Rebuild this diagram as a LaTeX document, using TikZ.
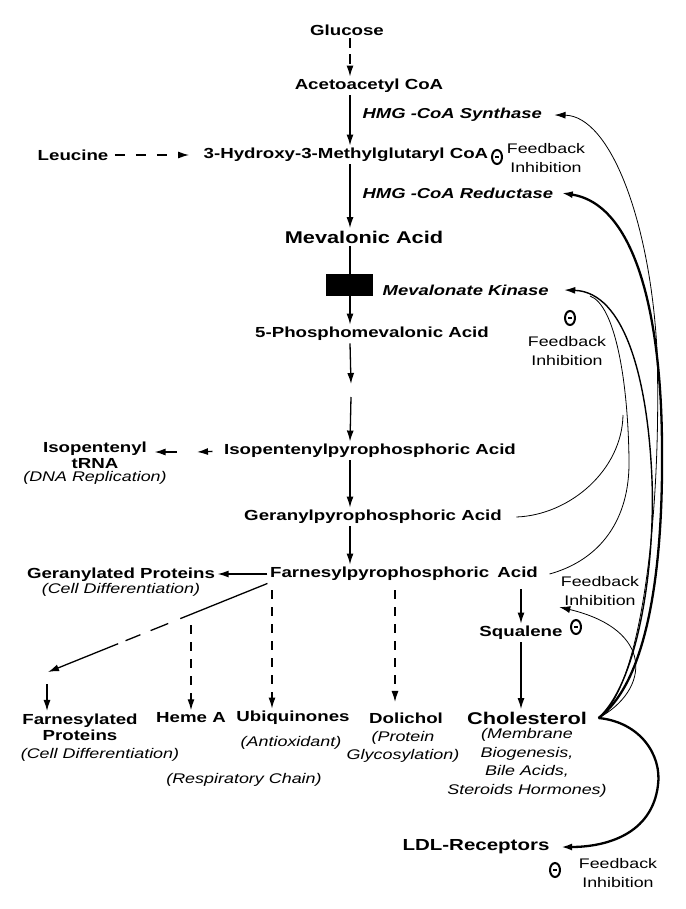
\documentclass[tikz,border=0pt]{standalone}
\usepackage{fontspec}
\setmainfont{Liberation Sans}[FakeStretch=1.28]
\usetikzlibrary{positioning}
\usetikzlibrary{arrows.meta}
\usetikzlibrary{shapes.geometric}
\tikzset{>={Latex[width=7pt,length=11pt]}}
\tikzset{
  cmpd/.style={font=\fontsize{14.6}{16}\selectfont\bfseries, inner sep=2pt, align=center},
  bigcmpd/.style={font=\fontsize{17}{20}\selectfont\bfseries, inner sep=2pt},
  enz/.style={font=\fontsize{14.4}{18}\selectfont\bfseries\itshape, inner sep=2pt, anchor=west},
  role/.style={font=\fontsize{14}{18.5}\selectfont\itshape, align=center, inner sep=1pt},
  fbtext/.style={font=\fontsize{13.9}{18.5}\selectfont, align=center, inner sep=1pt},
  minus/.style={ellipse, draw, line width=2pt, minimum width=10pt, minimum height=14pt, inner sep=0pt,
    path picture={\draw [line width=1.2pt] ([xshift=-2pt]path picture bounding box.center) -- ([xshift=2pt]path picture bounding box.center);}},
  dsh/.style={dash pattern=on 9pt off 8pt},
  thinfb/.style={line width=0.8pt},
  thickfb/.style={line width=2.3pt},
}

\begin{document}
\begin{tikzpicture}[x=1pt, y=-1pt, line width=1.3pt]
\useasboundingbox [fill=white] (0,0) rectangle (685,909);
\coordinate (sp) at (350,0);

\node (glc) [cmpd] at (347,30) {Glucose};
\node (aca) [cmpd] at (369,86) {Acetoacetyl CoA};
\node (syn) [enz] at (360,115) {HMG -CoA Synthase};
\node (leu) [cmpd] at (73,155) {Leucine};
\node (hmg) [cmpd] at (346,155) {3-Hydroxy-3-Methylglutaryl CoA};
\node (m1) [minus] at (497,157) {};
\node (fb1) [fbtext] at (546,158) {Feedback\\Inhibition};
\node (red) [enz] at (360,193) {HMG -CoA Reductase};
\node (mva) [bigcmpd] at (364,237) {Mevalonic Acid};
\node (box) [fill=black, minimum width=47pt, minimum height=22pt, inner sep=0pt] at (349,285) {};
\node (mk) [enz] at (380,290) {Mevalonate Kinase};
\node (m2) [minus] at (570,318) {};
\node (fb2) [fbtext] at (567,351) {Feedback\\Inhibition};
\node (pmv) [cmpd] at (372,334) {5-Phosphomevalonic Acid};
\node (ipp) [cmpd] at (370,451) {Isopentenylpyrophosphoric Acid};
\node (itrna) [cmpd] at (95,455) {Isopentenyl\\tRNA};
\node (dna) [role, below=-1pt of itrna] {(DNA Replication)};
\node (gpp) [cmpd] at (373,517) {Geranylpyrophosphoric Acid};
\node (fpp) [cmpd] at (404,574) {Farnesylpyrophosphoric\hspace{3pt} Acid};
\node (gprot) [cmpd] at (121,575) {Geranylated Proteins};
\node (cdiff1) [role, below=-3pt of gprot] {(Cell Differentiation)};
\node (fb3) [fbtext] at (600,591) {Feedback\\Inhibition};
\node (sq) [cmpd] at (521,633) {Squalene};
\node (m3) [minus] at (576,627) {};
\node (chol) [bigcmpd] at (527,718) {Cholesterol};
\node (cholr) [role, below=0pt of chol] {(Membrane\\Biogenesis,\\Bile Acids,\\Steroids Hormones)};
\node (farn) [cmpd] at (80,727) {Farnesylated\\Proteins};
\node (cdiff2) [role] at (100,755) {(Cell Differentiation)};
\node (heme) [cmpd] at (191,718) {Heme A};
\node (ubq) [cmpd] at (293,718) {Ubiquinones};
\node (antiox) [role] at (291,743) {(Antioxidant)};
\node (resp) [role] at (244,780) {(Respiratory Chain)};
\node (dol) [cmpd] at (406,718) {Dolichol};
\node (glyc) [role] at (403,747) {(Protein\\Glycosylation)};
\node (ldl) [font=\fontsize{16}{18}\selectfont\bfseries, inner sep=2pt] at (476,847) {LDL-Receptors};
\node (m4) [minus] at (555,870) {};
\node (fb4) [fbtext] at (618,873) {Feedback\\Inhibition};

\coordinate (s1) at (351,384);
\coordinate (s2) at (351,397);
\coordinate (i1) at (197,452);
\coordinate (i2) at (177,452);
\coordinate (fa) at (48,672);
\coordinate (fa2) at (47,684);
\coordinate (dh) at (191,625);
\coordinate (du) at (272,590);
\coordinate (dd) at (395,590);
\coordinate (ct) at ([xshift=9pt]chol.east);
\coordinate (gj) at (623,415);
\coordinate (mkj) at (590,296);

\path [draw, ->, dash pattern=on 10pt off 6pt] (glc.south -| sp) -- (aca.north -| sp);
\path [draw, ->] (aca.south -| sp) -- (hmg.north -| sp);
\path [draw, ->, dash pattern=on 10pt off 11pt, shorten <=4pt, shorten >=12pt] (leu) -- (hmg);
\path [draw, ->] (hmg.south -| sp) -- (mva.north -| sp);
\path [draw, ->] (mva.south -| sp) -- (pmv.north -| sp);
\path [draw, ->] (pmv.south -| sp) -- (s1);
\path [draw, ->] (s2) -- (ipp.north -| sp);
\path [draw, ->] (ipp.south -| sp) -- (gpp.north -| sp);
\path [draw, ->] (gpp.south -| sp) -- (fpp.north -| sp);
\path [draw, ->, shorten <=9pt] (ipp.west) -- (i1);
\path [draw, ->, shorten >=5pt] (i2) -- (itrna.east |- i2);
\path [draw, ->] (fpp.west) -- (gprot.east |- fpp.west);
\path [draw, ->, dash pattern=on 94pt off 13pt on 19pt off 11pt on 16pt off 8pt on 200pt] (fpp.south west) -- (fa);
\path [draw, ->] (fa2) -- (fa2 |- farn.north);
\path [draw, ->, dsh] (dh) -- (heme.north);
\path [draw, ->, dsh] (du) -- (du |- ubq.north);
\path [draw, ->, dsh, shorten >=8pt] (dd) -- (dd |- dol.north);
\path [draw, ->, shorten <=6pt] (sq |- fpp.south) -- (sq.north);
\path [draw, ->] (sq.south) -- (sq.south |- chol.north);

\path [draw, thinfb, ->] (ct) .. controls (640,690) and (662,520) .. (657,350) .. controls (650,220) and (610,116) .. ([xshift=10pt]syn.east);
\path [draw, thickfb, ->] (ct) .. controls (650,680) and (663,560) .. (662,450) .. controls (662,330) and (640,205) .. ([xshift=6pt]red.east);
\path [draw, line width=1.4pt, ->] (ct) .. controls (640,680) and (655,560) .. (652,480) .. controls (648,380) and (625,292) .. ([xshift=13pt]mk.east);
\path [draw, thinfb] ([xshift=9pt]fpp.east) .. controls (600,560) and (630,520) .. (629,460) .. controls (628,380) and (615,305) .. (mkj);
\path [draw, thinfb] ([xshift=12pt]gpp.east) .. controls (570,515) and (622,470) .. (gj);
\path [draw, thinfb, ->] (ct) .. controls (650,690) and (655,630) .. (fb3.south west);
\path [draw, thickfb, ->] (ct) .. controls (640,722) and (662,755) .. (658,785) .. controls (652,835) and (605,847) .. ([xshift=9pt]ldl.east);
\end{tikzpicture}
\end{document}
